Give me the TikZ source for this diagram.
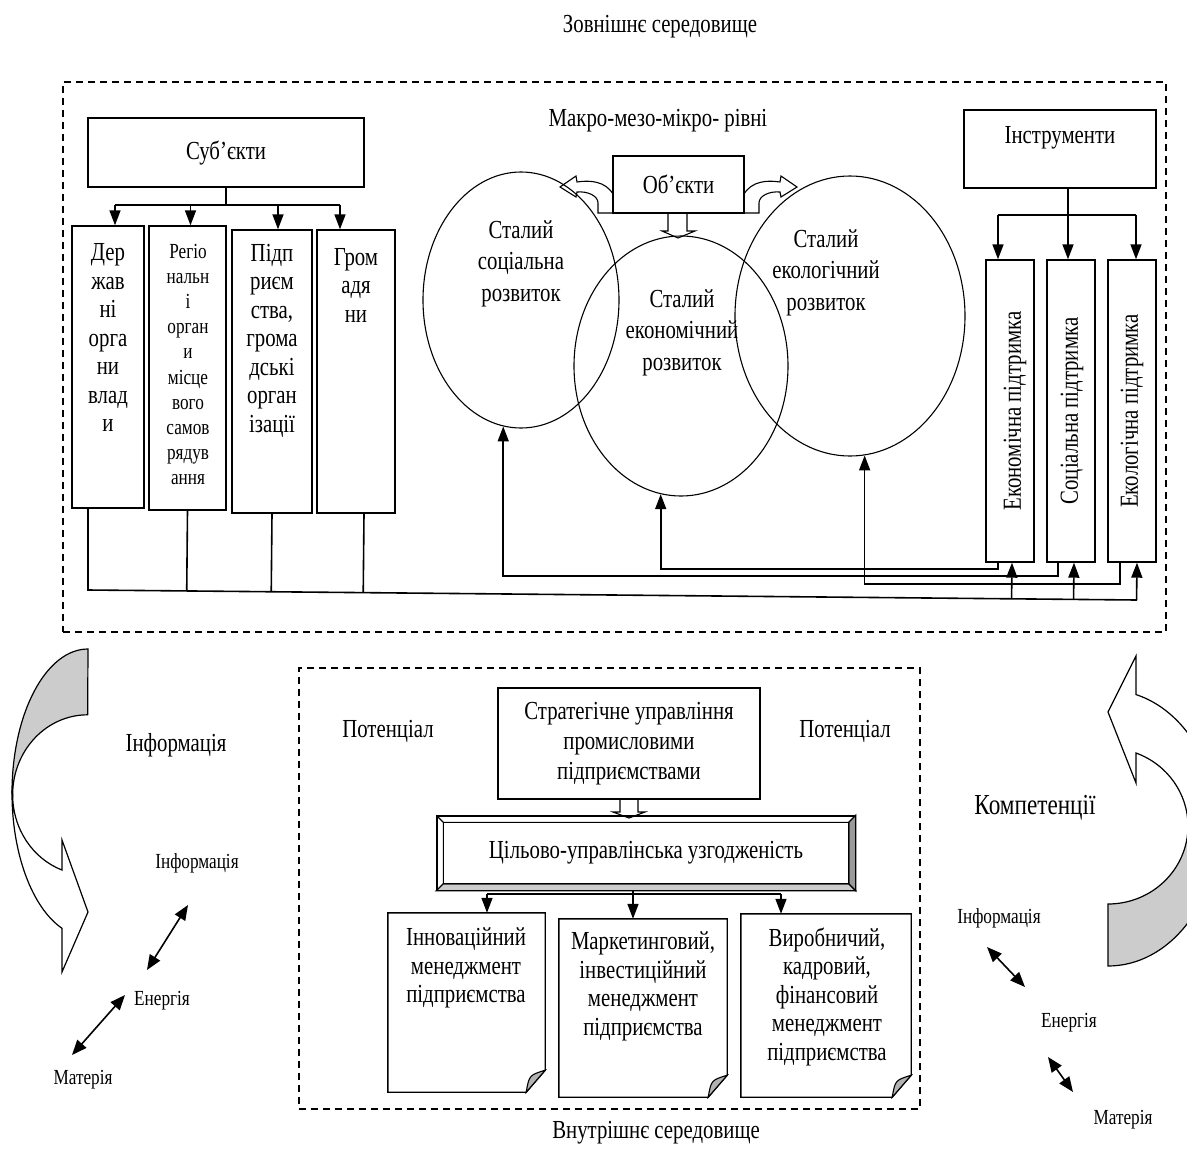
\documentclass[tikz,border=0pt]{standalone}
\usepackage{fontspec}
\setmainfont{Liberation Serif}[FakeStretch=0.8]
\usetikzlibrary{arrows.meta,shapes.geometric,calc}

\begin{document}
\begin{tikzpicture}
[every node/.style={inner sep=0pt},
 box/.style={rectangle, draw=black, line width=1.4pt},
 dashbox/.style={rectangle, draw=black, line width=1.4pt, dash pattern=on 7pt off 5pt},
 ell/.style={ellipse, draw=black, line width=1.1pt},
 txt/.style={font=\fontsize{26pt}{28.5pt}\selectfont, align=center},
 etxt/.style={font=\fontsize{26pt}{31.5pt}\selectfont, align=center},
 smalltxt/.style={font=\fontsize{21.5pt}{25.2pt}\selectfont, align=center},
 ln/.style={line width=1.6pt},
 arr/.style={line width=1.6pt, -{Triangle[length=15pt, width=11pt]}},
 dbl/.style={line width=1.6pt, {Triangle[length=15pt, width=12pt]}-{Triangle[length=15pt, width=12pt]}},
 hollow/.style={draw=black, line width=1.1pt},
 greyband/.style={draw=black, line width=1.2pt, fill=black!20},
 whiteband/.style={draw=black, line width=1.2pt, fill=white}]
\useasboundingbox (0pt,0pt) rectangle (1187pt,-1149pt);

% frames
\node (zovn) [dashbox, minimum width=1103pt, minimum height=550pt] at (614.5pt,-357pt) {};
\node (vnutr) [dashbox, minimum width=621pt, minimum height=441pt] at (609.5pt,-888.5pt) {};
\node (zovnt) [txt] at (660pt,-27pt) {Зовнішнє середовище};
\node (vnutrt) [txt] at (656pt,-1133pt) {Внутрішнє середовище};
\node (rivni) [txt] at (658pt,-121pt) {Макро-мезо-мікро- рівні};

% subjects
\node (subj) [box, minimum width=276pt, minimum height=69pt, txt] at (226pt,-152.5pt) {Суб’єкти};
\node (s1) [box, minimum width=72pt, minimum height=282pt] at (108pt,-367pt) {};
\node (s2) [box, minimum width=77pt, minimum height=284pt] at (187.5pt,-368pt) {};
\node (s3) [box, minimum width=80pt, minimum height=283pt] at (272pt,-371.5pt) {};
\node (s4) [box, minimum width=78pt, minimum height=283pt] at (356pt,-371.5pt) {};
\node (s1t) [txt] at (108pt,-337.5pt) {Дер\\жав\\ні\\орга\\ни\\влад\\и};
\node (s2t) [smalltxt] at (188pt,-364.5pt) {Регіо\\нальн\\і\\орган\\и\\місце\\вого\\самов\\рядув\\ання};
\node (s3t) [txt] at (272pt,-340.5pt) {Підп\\риєм\\ства,\\грома\\дські\\орган\\ізації};
\node (s4t) [txt] at (356pt,-285pt) {Гром\\адя\\ни};
\coordinate (sb) at (226pt,-205pt);
\coordinate (a1) at ([xshift=7pt]s1.north);
\coordinate (a2) at ([xshift=3pt]s2.north);
\coordinate (a3) at ([xshift=6pt]s3.north);
\coordinate (a4) at ([xshift=-16pt]s4.north);
\draw [ln] (subj.south) -- (sb);
\draw [ln] (a1 |- sb) -- (a4 |- sb);
\draw [arr] (a1 |- sb) -- (a1);
\draw [arr] (a2 |- sb) -- (a2);
\draw [arr] (a3 |- sb) -- (a3);
\draw [arr] (a4 |- sb) -- (a4);

% objects and the three circles
\node (es) [ell, minimum width=196pt, minimum height=256pt] at (521pt,-300pt) {};
\node (em) [ell, minimum width=214pt, minimum height=260pt] at (681pt,-366pt) {};
\node (eg) [ell, minimum width=230pt, minimum height=280pt] at (850pt,-316pt) {};
\node (est) [etxt] at (521pt,-263.5pt) {Сталий\\соціальна\\розвиток};
\node (emt) [etxt] at (682pt,-332.5pt) {Сталий\\економічний\\розвиток};
\node (egt) [etxt] at (826pt,-272.5pt) {Сталий\\екологічний\\розвиток};
\node (obj) [box, minimum width=131pt, minimum height=57pt, txt] at (678.5pt,-184.5pt) {Об’єкти};
\draw [hollow] (668pt,-213pt) -- (668pt,-231pt) -- (662pt,-231pt) -- (678pt,-238pt) -- (695pt,-231pt) -- (687pt,-231pt) -- (687pt,-213pt);
\draw [hollow] (598pt,-213pt) -- (613pt,-213pt) -- (613pt,-194pt) .. controls (605pt,-181pt) and (590pt,-180pt) .. (577pt,-182pt) -- (576pt,-176pt) -- (560pt,-187pt) -- (576pt,-197pt) -- (577pt,-192pt) .. controls (588pt,-191pt) and (598pt,-196pt) .. (598pt,-203pt) -- cycle;
\draw [hollow] (759pt,-213pt) -- (744pt,-213pt) -- (744pt,-194pt) .. controls (752pt,-181pt) and (767pt,-180pt) .. (780pt,-182pt) -- (781pt,-176pt) -- (797pt,-187pt) -- (781pt,-197pt) -- (780pt,-192pt) .. controls (769pt,-191pt) and (759pt,-196pt) .. (759pt,-203pt) -- cycle;

% instruments
\node (inst) [box, minimum width=192pt, minimum height=78pt] at (1060pt,-149pt) {};
\node (instt) [txt] at (1060pt,-138pt) {Інструменти};
\node (ec) [box, minimum width=48pt, minimum height=302pt] at (1010pt,-411pt) {};
\node (sc) [box, minimum width=48pt, minimum height=302pt] at (1071pt,-411pt) {};
\node (gc) [box, minimum width=48pt, minimum height=302pt] at (1132pt,-411pt) {};
\node (ect) [txt, rotate=90] at (1015pt,-411pt) {Економічна підтримка};
\node (sct) [txt, rotate=90] at (1072pt,-411pt) {Соціальна підтримка};
\node (gct) [txt, rotate=90] at (1132pt,-411pt) {Екологічна підтримка};
\coordinate (ib) at (1068pt,-215pt);
\coordinate (i1) at ([xshift=-12pt]ec.north);
\coordinate (i2) at ([xshift=-3pt]sc.north);
\coordinate (i3) at ([xshift=4pt]gc.north);
\draw [ln] (inst.south -| ib) -- (ib);
\draw [ln] (i1 |- ib) -- (i3 |- ib);
\draw [arr] (i1 |- ib) -- (i1);
\draw [arr] (i2 |- ib) -- (i2);
\draw [arr] (i3 |- ib) -- (i3);

% feedback to the circles
\draw [arr] ([xshift=-12pt]ec.south) -- ++(0pt,-6pt) -| (em.261);
\draw [arr] ([xshift=-13pt]sc.south) -- ++(0pt,-13pt) -| (es.262);
\draw [arr] ([xshift=-12pt]gc.south) -- ++(0pt,-21pt) -| (eg.276);

% subjects to instruments
\coordinate (bl) at (88pt,-590pt);
\coordinate (br) at (1137pt,-600pt);
\coordinate (b4) at ([xshift=8pt]s4.south);
\draw [ln] (s1.south -| bl) -- (bl) -- (br);
\draw [ln] (s2.south) -- ($(bl)!(s2.south)!(br)$);
\draw [ln] (s3.south) -- ($(bl)!(s3.south)!(br)$);
\draw [ln] (b4) -- ($(bl)!(b4)!(br)$);
\coordinate (u1) at ([xshift=2pt]ec.south);
\coordinate (u2) at ([xshift=3pt]sc.south);
\coordinate (u3) at ([xshift=5pt]gc.south);
\draw [arr] ($(bl)!(u1)!(br)$) -- (u1);
\draw [arr] ($(bl)!(u2)!(br)$) -- (u2);
\draw [arr] ($(bl)!(u3)!(br)$) -- (u3);

% inner environment
\node (potl) [txt] at (388pt,-731pt) {Потенціал};
\node (potr) [txt] at (845pt,-731pt) {Потенціал};
\node (strat) [box, minimum width=262pt, minimum height=111pt, txt, font=\fontsize{26pt}{30pt}\selectfont] at (629pt,-743.5pt) {Стратегічне управління\\промисловими\\підприємствами};
\draw [hollow] (620pt,-799pt) -- (620pt,-812pt) -- (613pt,-812pt) -- (629pt,-818pt) -- (645pt,-812pt) -- (638pt,-812pt) -- (638pt,-799pt);
\node (goal) [box, minimum width=418pt, minimum height=74pt, txt] at (646pt,-853pt) {Цільово-управлінська узгодженість};
\filldraw [draw=black, line width=1.1pt, fill=black!20] (goal.south west) -- (goal.south east) -- ([shift={(-7pt,7pt)}]goal.south east) -- ([shift={(7pt,7pt)}]goal.south west) -- cycle;
\filldraw [draw=black, line width=1.1pt, fill=black!40] (goal.south east) -- (goal.north east) -- ([shift={(-7pt,-7pt)}]goal.north east) -- ([shift={(-7pt,7pt)}]goal.south east) -- cycle;
\draw [line width=1.1pt] (goal.north west) -- ([shift={(7pt,-7pt)}]goal.north west) rectangle ([shift={(-7pt,7pt)}]goal.south east);
\draw [line width=1.4pt] (goal.south west) rectangle (goal.north east);

\node (d1) [minimum width=157pt, minimum height=179pt] at (466.5pt,-1002.5pt) {};
\node (d2) [minimum width=168pt, minimum height=178pt] at (643pt,-1008pt) {};
\node (d3) [minimum width=170pt, minimum height=183pt] at (826pt,-1005.5pt) {};
\draw [line width=1.4pt] (d1.north west) -- (d1.north east) -- ([yshift=22pt]d1.south east) -- ([xshift=-19pt]d1.south east) -- (d1.south west) -- cycle;
\draw [line width=1.4pt] (d2.north west) -- (d2.north east) -- ([yshift=22pt]d2.south east) -- ([xshift=-19pt]d2.south east) -- (d2.south west) -- cycle;
\draw [line width=1.4pt] (d3.north west) -- (d3.north east) -- ([yshift=22pt]d3.south east) -- ([xshift=-19pt]d3.south east) -- (d3.south west) -- cycle;
\filldraw [line width=1.1pt, fill=black!30] ([xshift=-19pt]d1.south east) .. controls ([shift={(-16pt,17pt)}]d1.south east) .. ([yshift=22pt]d1.south east) -- cycle;
\filldraw [line width=1.1pt, fill=black!30] ([xshift=-19pt]d2.south east) .. controls ([shift={(-16pt,17pt)}]d2.south east) .. ([yshift=22pt]d2.south east) -- cycle;
\filldraw [line width=1.1pt, fill=black!30] ([xshift=-19pt]d3.south east) .. controls ([shift={(-16pt,17pt)}]d3.south east) .. ([yshift=22pt]d3.south east) -- cycle;
\node (d1t) [txt] at (466pt,-968pt) {Інноваційний\\менеджмент\\підприємства};
\node (d2t) [txt] at (643pt,-986.5pt) {Маркетинговий,\\інвестиційний\\менеджмент\\підприємства};
\node (d3t) [txt] at (827pt,-996.5pt) {Виробничий,\\кадровий,\\фінансовий\\менеджмент\\підприємства};
\coordinate (gb) at (633pt,-894pt);
\coordinate (t1) at ([xshift=20.5pt]d1.north);
\coordinate (t2) at ([xshift=-10pt]d2.north);
\coordinate (t3) at ([xshift=-45pt]d3.north);
\draw [ln] (goal.south -| gb) -- (gb);
\draw [ln] (t1 |- gb) -- (t3 |- gb);
\draw [arr] (t1 |- gb) -- (t1);
\draw [arr] (t2 |- gb) -- (t2);
\draw [arr] (t3 |- gb) -- (t3);

% left corner
\filldraw [greyband] (88pt,-649pt) arc [start angle=90, end angle=180, x radius=76pt, y radius=144pt] -- (12.65pt,-794.8pt) arc [start angle=180, end angle=90, x radius=75pt, y radius=80pt] -- cycle;
\filldraw [whiteband] (12pt,-793pt) arc [start angle=180, end angle=250, x radius=76pt, y radius=144pt] -- (62pt,-972pt) -- (88pt,-912pt) -- (62pt,-840pt) -- (62pt,-870pt) arc [start angle=250, end angle=180, x radius=75pt, y radius=80pt] -- cycle;
\node (infbig) [txt] at (176pt,-745pt) {Інформація};
\node (linf) [smalltxt] at (197pt,-863pt) {Інформація};
\node (lene) [smalltxt] at (162pt,-1001pt) {Енергія};
\node (lmat) [smalltxt] at (83pt,-1080pt) {Матерія};
\coordinate (la1) at (147pt,-970pt);
\coordinate (la2) at (188pt,-905pt);
\coordinate (la3) at (72pt,-1055pt);
\coordinate (la4) at (125pt,-995pt);
\draw [dbl] (la1) -- (la2);
\draw [dbl] (la3) -- (la4);

% right corner
\filldraw [greyband] (1108pt,-966pt) arc [start angle=270, end angle=360, x radius=110pt, y radius=138pt] -- (1188pt,-826pt) arc [start angle=0, end angle=-90, x radius=80pt, y radius=78pt] -- cycle;
\filldraw [whiteband] (1218pt,-828pt) arc [start angle=0, end angle=75.25, x radius=110pt, y radius=138pt] -- (1136pt,-656pt) -- (1108pt,-712pt) -- (1136pt,-783pt) -- (1136pt,-753pt) arc [start angle=69.5, end angle=0, x radius=80pt, y radius=78pt] -- cycle;
\node (komp) [font=\fontsize{29pt}{32pt}\selectfont] at (1035pt,-808pt) {Компетенції};
\node (rinf) [smalltxt] at (999pt,-918pt) {Інформація};
\node (rene) [smalltxt] at (1069pt,-1023pt) {Енергія};
\node (rmat) [smalltxt] at (1123pt,-1120pt) {Матерія};
\coordinate (ra1) at (987pt,-947pt);
\coordinate (ra2) at (1025pt,-987pt);
\coordinate (ra3) at (1048pt,-1057pt);
\coordinate (ra4) at (1073pt,-1092pt);
\draw [dbl] (ra1) -- (ra2);
\draw [dbl] (ra3) -- (ra4);
\end{tikzpicture}
\end{document}
